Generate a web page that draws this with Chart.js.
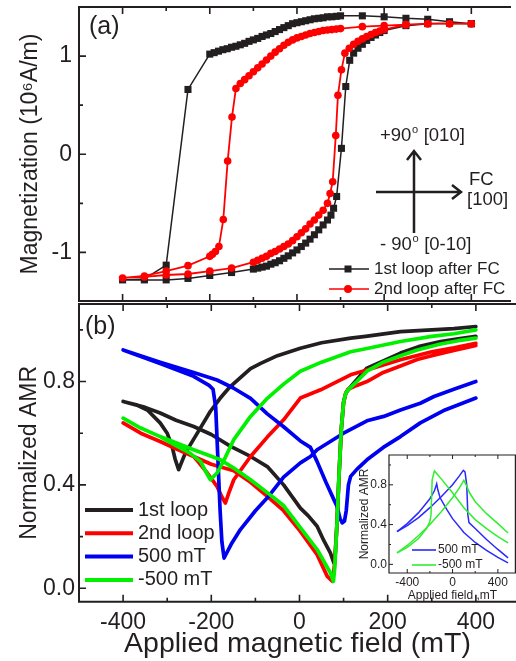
<!DOCTYPE html>
<html>
<head>
<meta charset="utf-8">
<script src="https://cdn.jsdelivr.net/npm/chart.js@4.4.0/dist/chart.umd.min.js"></script>
<style>
  body { margin: 0; background: #fff; }
  #wrap { position: relative; width: 516px; height: 661px; overflow: hidden; }
  canvas { position: absolute; }
</style>
</head>
<body>
<div id="wrap">
  <canvas id="magChart" width="516" height="306" style="left:0;top:0"></canvas>
  <canvas id="amrChart" width="516" height="361" style="left:0;top:300px"></canvas>
  <canvas id="insetChart" width="186" height="157" style="left:330px;top:447px"></canvas>
</div>
<script>
// tick labels
const fieldTicks = [-400, -200, 0, 200, 400];
const magTicks = [-1, 0, 1];
const amrTicks = [0.0, 0.4, 0.8];
const insetFieldTicks = [-400, 0, 400];

// (a) magnetization, 1st loop after FC (sweep down, then up)
const magBlackDownField = [400,350,300,250,200,150,100,90,80,70,60,50,40,30,20,10,0,-10,-20,-30,-40,-50,-60,-70,-80,-90,-100,-110,-120,-130,-140,-150,-160,-170,-180,-190,-200,-250,-300,-350,-400];
const magBlackDown = [1.33,1.35,1.375,1.385,1.40,1.41,1.41,1.405,1.40,1.40,1.39,1.385,1.38,1.37,1.36,1.35,1.34,1.33,1.31,1.29,1.27,1.25,1.23,1.215,1.20,1.18,1.165,1.15,1.13,1.115,1.10,1.09,1.075,1.065,1.05,1.035,1.02,0.66,-1.13,-1.27,-1.28];
const magBlackUpField = [-350,-300,-250,-200,-150,-100,-90,-80,-70,-60,-50,-40,-30,-20,-10,0,10,20,30,40,50,60,70,78,84,91,102,112,121,130,140,150,160,170,180,190,200,250,300,350,400];
const magBlackUp = [-1.28,-1.28,-1.265,-1.235,-1.205,-1.17,-1.16,-1.15,-1.14,-1.12,-1.105,-1.085,-1.06,-1.035,-1.005,-0.975,-0.94,-0.905,-0.865,-0.82,-0.77,-0.72,-0.67,-0.62,-0.55,-0.43,0.06,0.69,0.957,1.03,1.08,1.12,1.16,1.19,1.215,1.24,1.26,1.31,1.33,1.335,1.33];

// (a) magnetization, 2nd loop after FC
const magRedDownField = [400,350,300,250,200,150,100,90,80,70,60,50,40,30,20,10,0,-10,-20,-30,-40,-50,-60,-70,-80,-90,-100,-110,-120,-130,-140,-149,-159,-169,-179,-187,-194,-200,-250,-300,-350,-400];
const magRedDown = [1.33,1.33,1.33,1.32,1.31,1.30,1.28,1.275,1.27,1.265,1.26,1.25,1.24,1.23,1.215,1.20,1.185,1.165,1.14,1.11,1.075,1.04,1.0,0.96,0.92,0.88,0.84,0.80,0.76,0.72,0.67,0.38,-0.07,-0.665,-0.94,-0.99,-1.02,-1.04,-1.135,-1.19,-1.24,-1.26];
const magRedUpField = [-350,-300,-250,-200,-150,-100,-90,-80,-70,-60,-50,-40,-30,-20,-10,0,10,20,30,40,50,60,70,76,82,89,94,102,110,120,130,140,150,160,170,180,190,200,250,300,350,400];
const magRedUp = [-1.25,-1.23,-1.22,-1.19,-1.16,-1.10,-1.08,-1.06,-1.04,-1.01,-0.99,-0.965,-0.94,-0.915,-0.88,-0.84,-0.80,-0.76,-0.71,-0.67,-0.62,-0.57,-0.50,-0.40,-0.28,0.19,0.60,0.86,1.03,1.08,1.12,1.15,1.175,1.20,1.22,1.24,1.255,1.27,1.32,1.33,1.33,1.33];

// (b) normalized AMR
const amrBlackDownField = [400,350,300,229,150,116,50,2,-50,-88,-111,-134,-160,-180,-202,-230,-259,-274,-282,-289,-300,-316,-345,-370,-400];
const amrBlackDown = [1.013,1.005,1.0,0.993,0.975,0.968,0.95,0.929,0.90,0.87,0.85,0.815,0.775,0.735,0.685,0.605,0.523,0.459,0.50,0.549,0.60,0.64,0.69,0.71,0.723];
const amrBlackUpField = [-350,-316,-280,-240,-200,-156,-111,-73,-36,2,20,40,55,70,78,80,85,90,95,100,105,116,153,190,229,270,320,360,400];
const amrBlackUp = [0.70,0.678,0.65,0.626,0.595,0.549,0.51,0.471,0.40,0.31,0.28,0.24,0.185,0.137,0.098,0.10,0.25,0.45,0.62,0.72,0.755,0.78,0.852,0.88,0.91,0.935,0.955,0.965,0.975];

const amrRedDownField = [400,350,300,229,153,116,48,2,-36,-73,-111,-149,-160,-168,-175,-187,-209,-230,-240,-280,-316,-360,-400];
const amrRedDown = [0.948,0.93,0.915,0.884,0.845,0.826,0.768,0.736,0.652,0.585,0.51,0.42,0.37,0.33,0.35,0.394,0.446,0.49,0.51,0.54,0.568,0.60,0.64];
const amrRedUpField = [-360,-316,-280,-240,-200,-149,-111,-73,-36,2,40,63,75,80,85,90,95,100,105,110,130,153,190,229,267,300,350,400];
const amrRedUp = [0.60,0.568,0.54,0.51,0.48,0.455,0.41,0.356,0.30,0.22,0.13,0.046,0.027,0.10,0.25,0.45,0.62,0.72,0.755,0.77,0.785,0.80,0.835,0.86,0.885,0.90,0.92,0.94];

const amrBlueDownField = [400,350,305,274,229,191,153,100,40,25,2,-36,-73,-100,-134,-155,-171,-176,-180,-185,-190,-196,-205,-240,-316,-400];
const amrBlueDown = [0.80,0.77,0.742,0.716,0.69,0.665,0.648,0.60,0.536,0.51,0.485,0.43,0.35,0.30,0.227,0.17,0.117,0.18,0.30,0.50,0.70,0.77,0.785,0.82,0.87,0.922];
const amrBlueUpField = [-316,-240,-187,-150,-111,-73,-36,2,25,40,60,78,85,92,97,102,106,111,116,130,153,190,229,274,330,400];
const amrBlueUp = [0.875,0.835,0.806,0.775,0.735,0.675,0.625,0.57,0.545,0.49,0.41,0.343,0.317,0.27,0.253,0.26,0.30,0.40,0.433,0.46,0.497,0.545,0.587,0.64,0.69,0.736];

const amrGreenDownField = [400,350,300,229,153,116,50,2,-36,-73,-111,-149,-170,-187,-202,-212,-224,-250,-277,-316,-360,-400];
const amrGreenDown = [1.0,0.985,0.975,0.955,0.928,0.915,0.875,0.84,0.79,0.735,0.665,0.575,0.50,0.446,0.42,0.45,0.49,0.525,0.549,0.587,0.62,0.658];
const amrGreenUpField = [-360,-316,-240,-179,-149,-111,-73,-36,2,40,60,70,77,80,85,90,95,100,105,110,130,153,190,229,267,320,360,400];
const amrGreenUp = [0.62,0.587,0.536,0.497,0.465,0.42,0.37,0.32,0.235,0.15,0.09,0.06,0.027,0.08,0.25,0.45,0.62,0.72,0.755,0.768,0.80,0.84,0.875,0.90,0.922,0.945,0.958,0.968];

// inset
const insetBlueAField = [-490,-400,-300,-200,-100,0,60,95,110,125,135,145,200,300,400,490];
const insetBlueA = [0.33,0.39,0.47,0.57,0.68,0.80,0.89,0.945,0.93,0.80,0.50,0.42,0.36,0.25,0.15,0.065];
const insetBlueBField = [-490,-400,-300,-200,-160,-140,-130,-110,-50,0,100,200,300,400,490];
const insetBlueB = [0.33,0.41,0.52,0.66,0.74,0.81,0.75,0.67,0.55,0.46,0.32,0.22,0.14,0.07,0.014];
const insetGreenAField = [-490,-400,-300,-230,-200,-190,-180,-160,-100,0,100,200,300,400,490];
const insetGreenA = [0.115,0.17,0.26,0.36,0.43,0.50,0.85,0.94,0.86,0.72,0.57,0.45,0.36,0.28,0.215];
const insetGreenBField = [-490,-400,-300,-200,-100,0,60,100,120,150,200,300,400,490];
const insetGreenB = [0.115,0.19,0.29,0.40,0.53,0.67,0.77,0.845,0.80,0.72,0.63,0.51,0.41,0.316];

const INK = '#231f20';
const FONT = "'Liberation Sans', Arial, sans-serif";
Chart.defaults.font.family = FONT;
Chart.defaults.color = INK;
Chart.defaults.animation = false;
Chart.defaults.plugins.legend.display = false;
Chart.defaults.plugins.tooltip.enabled = false;

function pts(xs, ys) { return xs.map((x, i) => ({ x: x, y: ys[i] })); }
function loop(df, dv, uf, uv) { return pts(df.concat(uf), dv.concat(uv)); }

// keep chart.js from adding room for end labels
function noPad(s) { s.paddingTop = 0; s.paddingBottom = 0; s.paddingLeft = 0; s.paddingRight = 0; }
function fixWidth(w) { return s => { s.width = w; noPad(s); }; }
function fixHeight(h) { return s => { s.height = h; noPad(s); }; }
function fixedTicks(list) { return s => { s.ticks = list.map(v => ({ value: v })); }; }

// box round the plot with inward ticks
const framePlugin = {
  id: 'frame',
  afterDatasetsDraw(chart, args, o) {
    const ctx = chart.ctx, a = chart.chartArea, sx = chart.scales.x, sy = chart.scales.y;
    ctx.save();
    ctx.strokeStyle = INK;
    ctx.lineWidth = o.width;
    ctx.beginPath();
    const h = o.width / 2;
    if (o.sides.includes('top')) { ctx.moveTo(a.left - h, a.top); ctx.lineTo(a.right, a.top); }
    if (o.sides.includes('bottom')) { ctx.moveTo(a.left - h, a.bottom); ctx.lineTo(a.right, a.bottom); }
    if (o.sides.includes('left')) { ctx.moveTo(a.left, a.top - h); ctx.lineTo(a.left, a.bottom + h); }
    if (o.sides.includes('right')) { ctx.moveTo(a.right - h, a.top - h); ctx.lineTo(a.right - h, a.bottom + h); }
    ctx.stroke();
    ctx.lineWidth = o.tickWidth;
    ctx.beginPath();
    const xt = (vals, len) => vals.forEach(v => {
      const p = sx.getPixelForValue(v);
      if (o.sides.includes('top')) { ctx.moveTo(p, a.top); ctx.lineTo(p, a.top + len); }
      if (o.sides.includes('bottom')) { ctx.moveTo(p, a.bottom); ctx.lineTo(p, a.bottom - len); }
    });
    const yt = (vals, len) => vals.forEach(v => {
      const p = sy.getPixelForValue(v);
      ctx.moveTo(a.left, p); ctx.lineTo(a.left + len, p);
    });
    xt(o.xMajor, o.major); xt(o.xMinor, o.minor);
    yt(o.yMajor, o.major); yt(o.yMinor, o.minor);
    ctx.stroke();
    ctx.restore();
  }
};

function text(ctx, str, x, y, size, color) {
  ctx.font = size + 'px ' + FONT;
  ctx.fillStyle = color || INK;
  ctx.textAlign = 'left';
  ctx.textBaseline = 'middle';
  ctx.fillText(str, x, y);
}
// text with a raised small "o" (degree mark)
function degText(ctx, before, after, x, y, size) {
  text(ctx, before, x, y, size);
  let w = ctx.measureText(before).width;
  text(ctx, 'o', x + w + 0.5, y - size * 0.33, size * 0.6);
  w += ctx.measureText('o').width + 1;
  text(ctx, after, x + w, y, size);
}

const notesA = {
  id: 'notesA',
  afterDraw(chart) {
    const ctx = chart.ctx;
    ctx.save();
    text(ctx, '(a)', 89, 27, 25);
    // axes arrows
    ctx.strokeStyle = INK; ctx.lineWidth = 2.5;
    ctx.beginPath();
    ctx.moveTo(414, 233); ctx.lineTo(414, 151);
    ctx.moveTo(407, 160); ctx.lineTo(414, 151); ctx.lineTo(421, 160);
    ctx.moveTo(376, 192); ctx.lineTo(461, 192);
    ctx.moveTo(452, 185); ctx.lineTo(461, 192); ctx.lineTo(452, 199);
    ctx.stroke();
    degText(ctx, '+90', ' [010]', 380, 136, 18.5);
    text(ctx, 'FC', 469, 180, 18.5);
    text(ctx, '[100]', 467, 200, 18.5);
    degText(ctx, '- 90', ' [0-10]', 380, 245, 18.5);
    // legend
    ctx.lineWidth = 1.6;
    ctx.strokeStyle = INK;
    ctx.beginPath(); ctx.moveTo(329, 269); ctx.lineTo(369, 269); ctx.stroke();
    ctx.fillStyle = INK; ctx.fillRect(344.5, 265.5, 7, 7);
    ctx.strokeStyle = '#ff0000';
    ctx.beginPath(); ctx.moveTo(329, 289); ctx.lineTo(369, 289); ctx.stroke();
    ctx.fillStyle = '#ff0000';
    ctx.beginPath(); ctx.arc(348, 289, 4, 0, Math.PI * 2); ctx.fill();
    text(ctx, '1st loop after FC', 374, 269, 17);
    text(ctx, '2nd loop after FC', 374, 289, 17);
    ctx.restore();
  }
};

const amrLegend = [['1st loop', INK], ['2nd loop', '#ff0000'], ['500 mT', '#0000f0'], ['-500 mT', '#00f000']];
const notesB = {
  id: 'notesB',
  afterDraw(chart) {
    const ctx = chart.ctx;
    ctx.save();
    text(ctx, '(b)', 85, 27, 25);
    ctx.lineWidth = 4;
    amrLegend.forEach((it, i) => {
      const y = 210 + i * 23.3;
      ctx.strokeStyle = it[1];
      ctx.beginPath(); ctx.moveTo(85, y); ctx.lineTo(133, y); ctx.stroke();
      text(ctx, it[0], 138, y, 20);
    });
    ctx.restore();
  }
};

const notesC = {
  id: 'notesC',
  afterDraw(chart) {
    const ctx = chart.ctx;
    ctx.save();
    ctx.lineWidth = 1.6;
    [['500 mT', '#2a2aff', 103], ['-500 mT', '#30ee30', 118]].forEach(it => {
      ctx.strokeStyle = it[1];
      ctx.beginPath(); ctx.moveTo(82, it[2]); ctx.lineTo(106, it[2]); ctx.stroke();
      text(ctx, it[0], 108, it[2], 12);
    });
    ctx.restore();
  }
};

// (a)
new Chart(document.getElementById('magChart'), {
  type: 'scatter',
  data: {
    datasets: [
      { data: loop(magRedDownField, magRedDown, magRedUpField, magRedUp), showLine: true,
        borderColor: '#ff0000', backgroundColor: '#ff0000', borderWidth: 1.8,
        pointStyle: 'circle', pointRadius: 3.8, pointBorderWidth: 0 },
      { data: loop(magBlackDownField, magBlackDown, magBlackUpField, magBlackUp), showLine: true,
        borderColor: INK, backgroundColor: INK, borderWidth: 1.5,
        pointStyle: 'rect', pointRadius: 5, pointBorderWidth: 0 }
    ]
  },
  options: {
    responsive: false,
    layout: { padding: { top: 7, bottom: 2, left: 0, right: 0 } },
    scales: {
      x: { type: 'linear', min: -500, max: 491, display: false, afterFit: fixHeight(0) },
      y: { type: 'linear', min: -1.495, max: 1.5,
           afterBuildTicks: fixedTicks(magTicks),
           grid: { display: false, drawTicks: false }, border: { display: false },
           ticks: { font: { size: 23 }, padding: 7, callback: v => String(v) },
           title: { display: true, text: 'Magnetization (10⁶A/m)', font: { size: 23 }, padding: { top: 17, bottom: 0 } },
           afterFit: fixWidth(79) }
    },
    plugins: {
      frame: { sides: ['top', 'bottom', 'left'], width: 2, tickWidth: 1.6, major: 7, minor: 4,
               xMajor: fieldTicks, xMinor: [-300, -100, 100, 300], yMajor: magTicks, yMinor: [-0.5, 0.5] }
    }
  },
  plugins: [framePlugin, notesA]
});

// (b)
new Chart(document.getElementById('amrChart'), {
  type: 'scatter',
  data: {
    datasets: [
      { data: loop(amrGreenDownField, amrGreenDown, amrGreenUpField, amrGreenUp), borderColor: '#00f000' },
      { data: loop(amrBlueDownField, amrBlueDown, amrBlueUpField, amrBlueUp), borderColor: '#0000f0' },
      { data: loop(amrRedDownField, amrRedDown, amrRedUpField, amrRedUp), borderColor: '#ff0000' },
      { data: loop(amrBlackDownField, amrBlackDown, amrBlackUpField, amrBlackUp), borderColor: INK }
    ].map(d => Object.assign(d, { showLine: true, borderWidth: 3.7, pointRadius: 0, borderJoinStyle: 'round', borderCapStyle: 'round' }))
  },
  options: {
    responsive: false,
    layout: { padding: { top: 4, bottom: 0, left: 0, right: 0 } },
    scales: {
      x: { type: 'linear', min: -500, max: 491,
           afterBuildTicks: fixedTicks(fieldTicks),
           grid: { display: false, drawTicks: false }, border: { display: false },
           ticks: { font: { size: 23 }, padding: 7.5, maxRotation: 0, autoSkip: false, callback: v => String(v) },
           title: { display: true, text: 'Applied magnetic field (mT)', font: { size: 28.5 }, padding: { top: 0, bottom: 0 } },
           afterFit: fixHeight(59.3) },
      y: { type: 'linear', min: -0.052, max: 1.1,
           afterBuildTicks: fixedTicks(amrTicks),
           grid: { display: false, drawTicks: false }, border: { display: false },
           ticks: { font: { size: 23 }, padding: 4, callback: v => v.toFixed(1) },
           title: { display: true, text: 'Normalized AMR', font: { size: 23 }, padding: { top: 16, bottom: 0 } },
           afterFit: fixWidth(79) }
    },
    plugins: {
      frame: { sides: ['top', 'bottom', 'left'], width: 2, tickWidth: 1.6, major: 7, minor: 4,
               xMajor: fieldTicks, xMinor: [-300, -100, 100, 300], yMajor: amrTicks, yMinor: [0.2, 0.6, 1.0] }
    }
  },
  plugins: [framePlugin, notesB]
});

// inset
new Chart(document.getElementById('insetChart'), {
  type: 'scatter',
  data: {
    datasets: [
      { data: pts(insetGreenAField, insetGreenA), borderColor: '#30ee30' },
      { data: pts(insetGreenBField, insetGreenB), borderColor: '#30ee30' },
      { data: pts(insetBlueAField, insetBlueA), borderColor: '#2a2aff' },
      { data: pts(insetBlueBField, insetBlueB), borderColor: '#2a2aff' }
    ].map(d => Object.assign(d, { showLine: true, borderWidth: 1.5, pointRadius: 0 }))
  },
  options: {
    responsive: false,
    layout: { padding: { top: 8, bottom: 0, left: 0, right: 0 } },
    scales: {
      x: { type: 'linear', min: -561, max: 560,
           afterBuildTicks: fixedTicks(insetFieldTicks),
           grid: { display: false, drawTicks: false }, border: { display: false },
           ticks: { font: { size: 12 }, padding: 2.8, maxRotation: 0, autoSkip: false, callback: v => String(v) },
           title: { display: true, text: 'Applied field ,mT', font: { size: 12 }, padding: { top: 0, bottom: 0.8 } },
           afterFit: fixHeight(31) },
      y: { type: 'linear', min: -0.087, max: 1.1,
           afterBuildTicks: fixedTicks(amrTicks),
           grid: { display: false, drawTicks: false }, border: { display: false },
           ticks: { font: { size: 12 }, padding: 2, callback: v => v.toFixed(1) },
           title: { display: true, text: 'Normalized AMR', font: { size: 12 }, padding: { top: 27.8, bottom: 0 } },
           afterFit: fixWidth(59) }
    },
    plugins: {
      frame: { sides: ['top', 'bottom', 'left', 'right'], width: 1.2, tickWidth: 1, major: 4, minor: 2,
               xMajor: insetFieldTicks, xMinor: [-200, 200], yMajor: amrTicks, yMinor: [0.2, 0.6, 1.0] }
    }
  },
  plugins: [framePlugin, notesC]
});
</script>
</body>
</html>
